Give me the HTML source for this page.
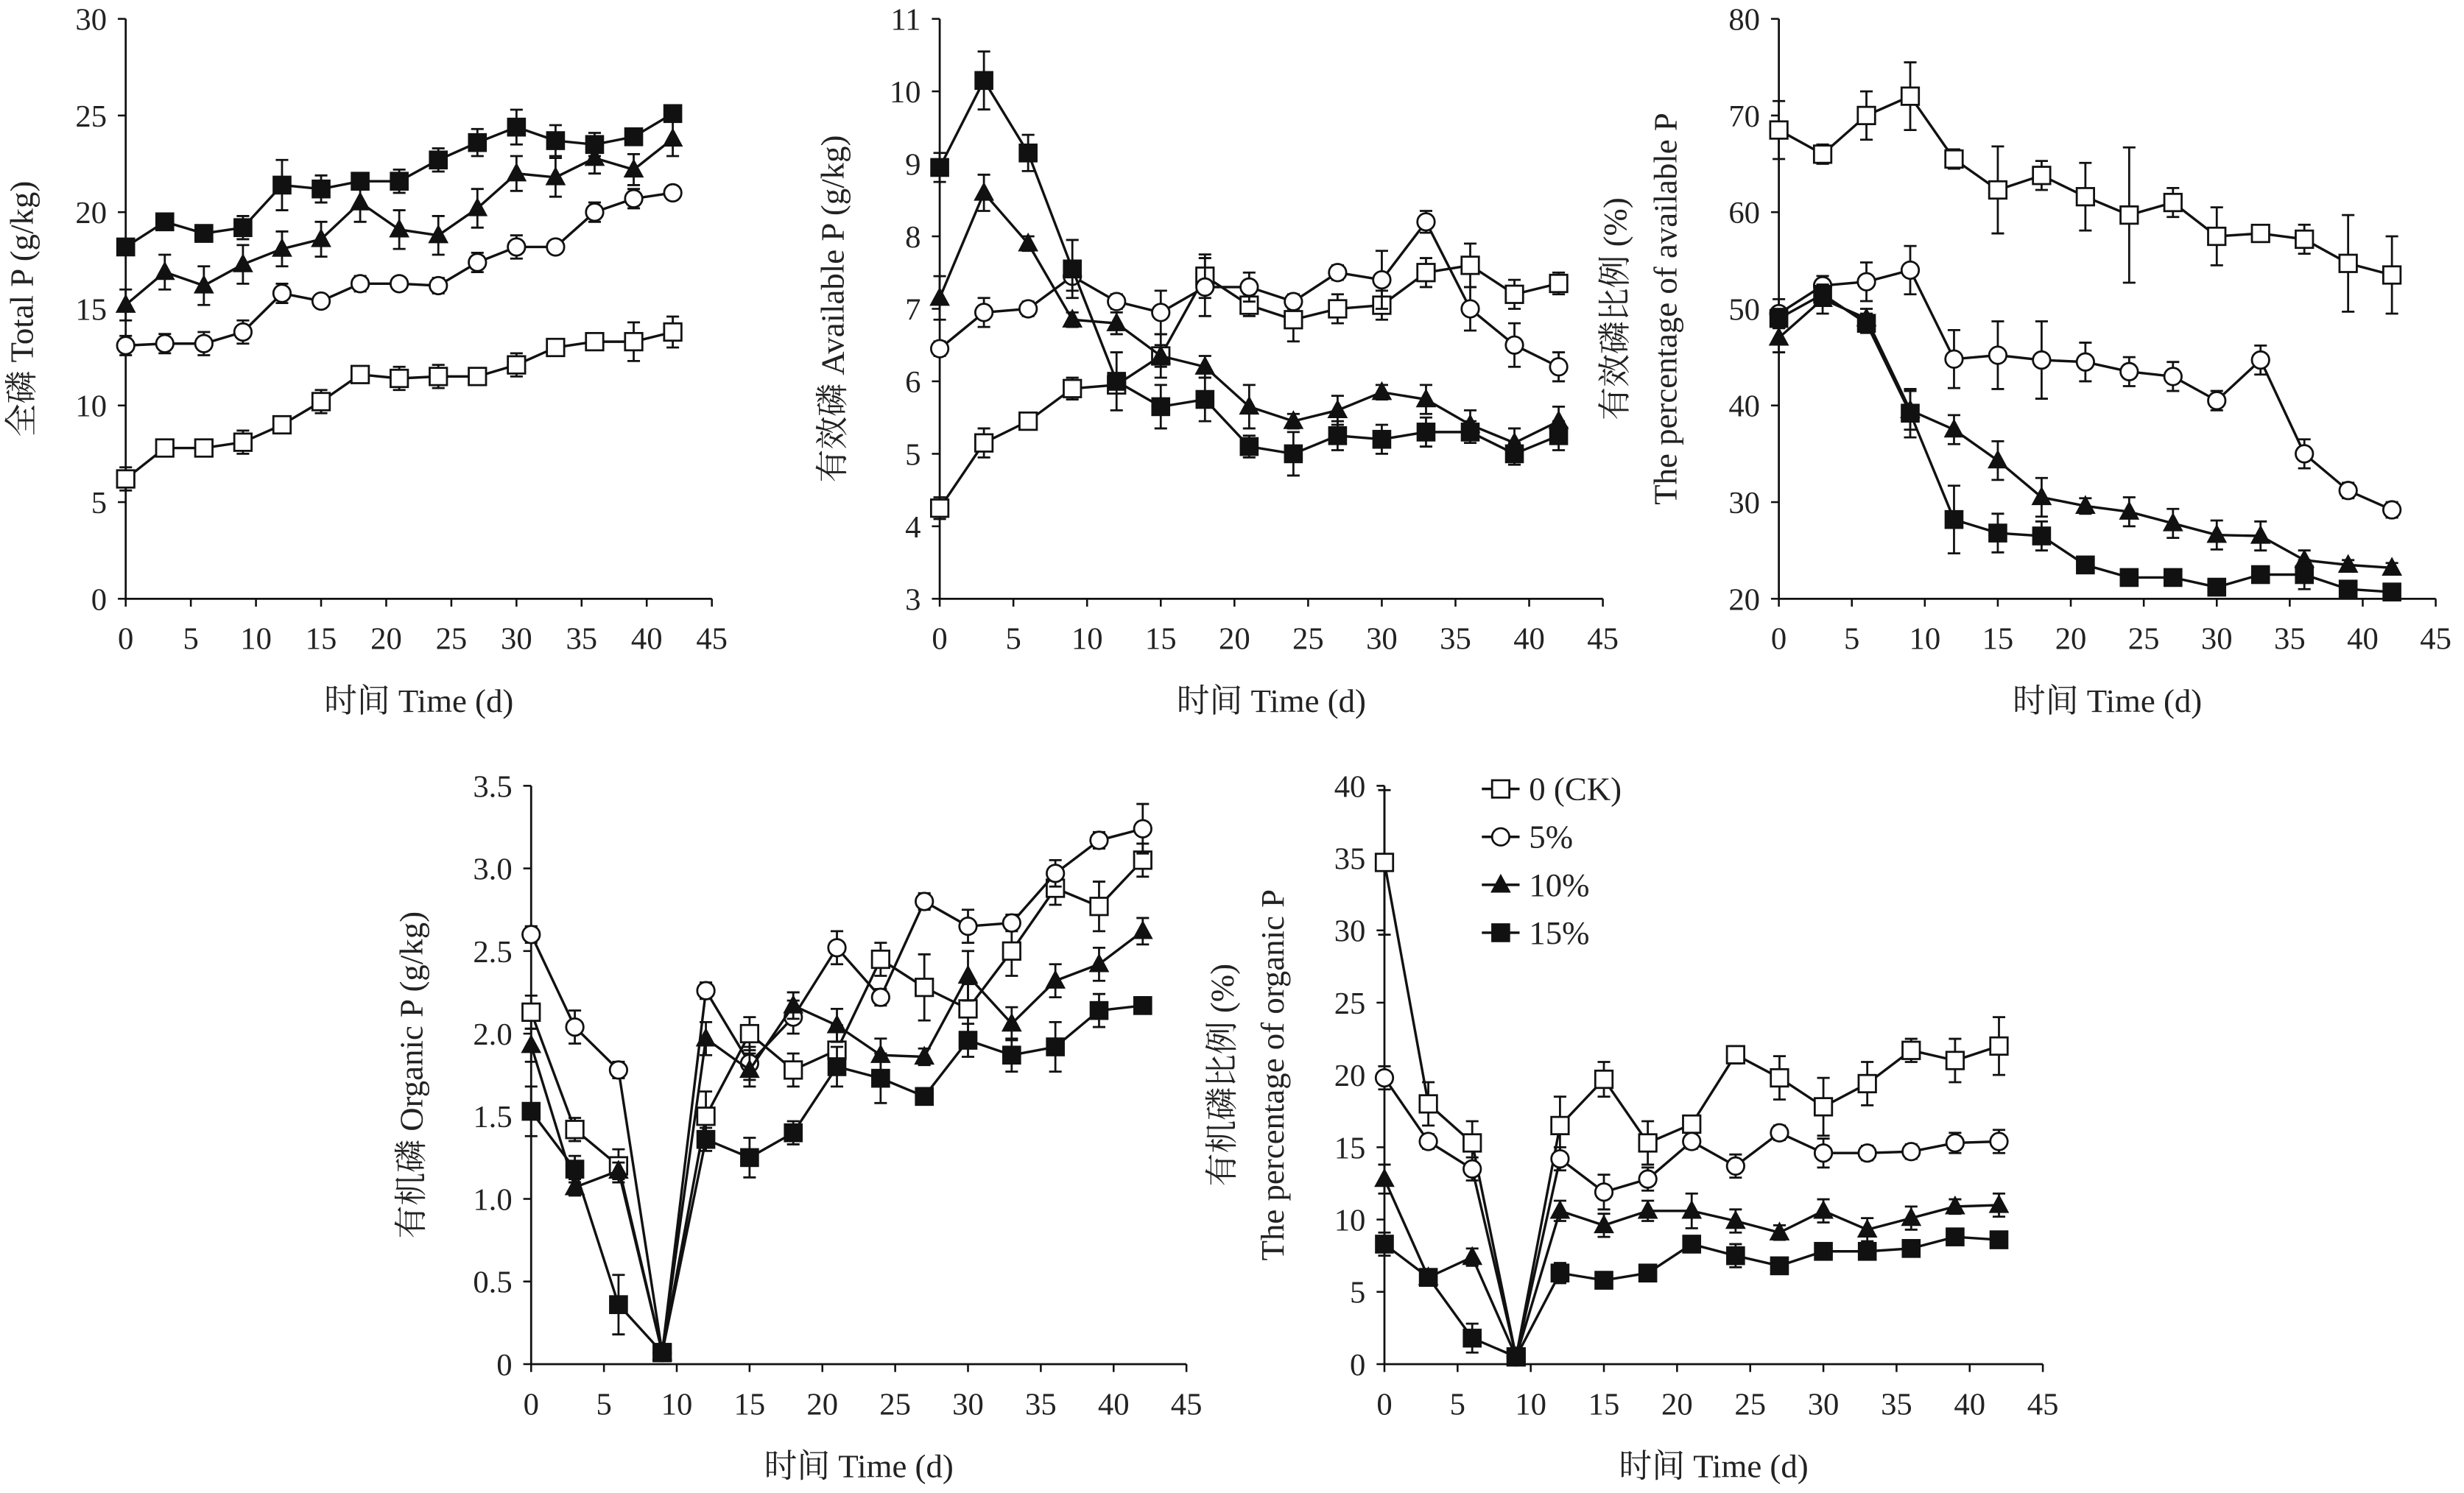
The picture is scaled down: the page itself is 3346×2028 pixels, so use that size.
<!DOCTYPE html>
<html><head><meta charset="utf-8"><style>
html,body{margin:0;padding:0;background:#fff}
svg{display:block}
text{font-family:"Liberation Serif","Noto Serif CJK SC",serif;fill:#222}
</style></head><body>
<svg id="chart" width="3346" height="2028" viewBox="0 0 1568 950" preserveAspectRatio="none" xmlns="http://www.w3.org/2000/svg"></svg>
<script>
const days = [0,3,6,9,12,15,18,21,24,27,30,33,36,39,42];
const seriesNames = ["0 (CK)","5%","10%","15%"];
const totalCK = [6.2,7.8,7.8,8.1,9.0,10.2,11.6,11.4,11.5,11.5,12.1,13.0,13.3,13.3,13.8];
const total5 = [13.1,13.2,13.2,13.8,15.8,15.4,16.3,16.3,16.2,17.4,18.2,18.2,20.0,20.7,21.0];
const total10 = [15.2,16.9,16.2,17.3,18.1,18.6,20.5,19.1,18.8,20.2,22.0,21.8,22.8,22.2,23.8];
const total15 = [18.2,19.5,18.9,19.2,21.4,21.2,21.6,21.6,22.7,23.6,24.4,23.7,23.5,23.9,25.1];
const totalErrCK = [0.6,0.3,0.3,0.6,0.3,0.6,0.3,0.6,0.6,0.3,0.6,0.3,0.3,1.0,0.8];
const totalErr5 = [0.5,0.5,0.6,0.6,0.5,0.3,0.4,0.3,0.4,0.5,0.6,0.3,0.5,0.5,0.3];
const totalErr10 = [0.8,0.9,1.0,1.0,0.9,0.9,1.0,1.0,1.0,1.0,0.9,1.0,0.8,0.8,0.9];
const totalErr15 = [0.4,0.3,0.3,0.6,1.3,0.7,0.4,0.6,0.6,0.7,0.9,0.8,0.6,0.3,0.3];
const availCK = [4.25,5.15,5.45,5.9,5.95,6.35,7.45,7.05,6.85,7.0,7.05,7.5,7.6,7.2,7.35];
const avail5 = [6.45,6.95,7.0,7.45,7.1,6.95,7.3,7.3,7.1,7.5,7.4,8.2,7.0,6.5,6.2];
const avail10 = [7.15,8.6,7.9,6.85,6.8,6.35,6.2,5.65,5.45,5.6,5.85,5.75,5.4,5.15,5.45];
const avail15 = [8.95,10.15,9.15,7.55,6.0,5.65,5.75,5.1,5.0,5.25,5.2,5.3,5.3,5.0,5.25];
const availErrCK = [0.15,0.2,0.1,0.15,0.1,0.3,0.3,0.15,0.3,0.2,0.2,0.2,0.3,0.2,0.15];
const availErr5 = [0.1,0.2,0.1,0.2,0.1,0.3,0.4,0.2,0.1,0.1,0.4,0.15,0.3,0.3,0.2];
const availErr10 = [0.3,0.25,0.1,0.1,0.15,0.15,0.15,0.3,0.1,0.2,0.1,0.2,0.2,0.2,0.2];
const availErr15 = [0.2,0.4,0.25,0.4,0.4,0.3,0.3,0.15,0.3,0.2,0.2,0.2,0.15,0.15,0.2];
const pctAvCK = [68.5,66,70,72,65.5,62.3,63.8,61.6,59.7,61,57.5,57.8,57.2,54.7,53.5];
const pctAv5 = [49.5,52.4,52.8,54,44.8,45.2,44.7,44.5,43.5,43,40.5,44.7,35,31.2,29.2];
const pctAv10 = [47,51,49,39.5,37.5,34.3,30.5,29.6,29,27.8,26.6,26.5,24,23.5,23.2];
const pctAv15 = [49,51.5,48.5,39.2,28.2,26.8,26.5,23.5,22.2,22.2,21.2,22.5,22.5,21,20.7];
const pctAvErrCK = [3,1,2.5,3.5,1,4.5,1.5,3.5,7,1.5,3,0.5,1.5,5,4];
const pctAvErr5 = [1.5,1,2,2.5,3,3.5,4,2,1.5,1.5,1,1.5,1.5,0.8,0.8];
const pctAvErr10 = [1.5,1.5,1,2,1.5,2,2,0.8,1.5,1.5,1.5,1.5,1,0.5,0.5];
const pctAvErr15 = [1,1,1,2.5,3.5,2,1.5,0.5,0.5,0.5,0.5,0.5,1.5,0.5,0.5];
const orgCK = [2.13,1.42,1.2,0.07,1.5,2.0,1.78,1.9,2.45,2.28,2.15,2.5,2.88,2.77,3.05];
const org5 = [2.6,2.04,1.78,0.07,2.26,1.82,2.1,2.52,2.22,2.8,2.65,2.67,2.97,3.17,3.24];
const org10 = [1.93,1.07,1.17,0.07,1.97,1.78,2.17,2.05,1.87,1.86,2.35,2.06,2.32,2.42,2.62];
const org15 = [1.53,1.18,0.36,0.07,1.36,1.25,1.4,1.8,1.73,1.62,1.96,1.87,1.92,2.14,2.17];
const orgErrCK = [0.1,0.07,0.1,0.03,0.15,0.1,0.1,0.15,0.1,0.2,0.15,0.15,0.1,0.15,0.1];
const orgErr5 = [0.05,0.1,0.05,0.03,0.05,0.1,0.1,0.1,0.05,0.05,0.1,0.05,0.08,0.05,0.15];
const orgErr10 = [0.1,0.05,0.05,0.03,0.1,0.1,0.08,0.1,0.1,0.05,0.15,0.1,0.1,0.1,0.08];
const orgErr15 = [0.15,0.08,0.18,0.03,0.07,0.12,0.07,0.12,0.15,0.05,0.1,0.1,0.15,0.1,0.05];
const pctOrgCK = [34.7,18,15.3,0.5,16.5,19.7,15.3,16.6,21.4,19.8,17.8,19.4,21.7,21,22];
const pctOrg5 = [19.8,15.4,13.5,0.5,14.2,11.9,12.8,15.4,13.7,16,14.6,14.6,14.7,15.3,15.4];
const pctOrg10 = [12.8,6,7.4,0.5,10.6,9.6,10.6,10.6,9.9,9.1,10.6,9.3,10.1,10.9,11];
const pctOrg15 = [8.3,6,1.8,0.5,6.3,5.8,6.3,8.3,7.5,6.8,7.8,7.8,8,8.8,8.6];
const pctOrgErrCK = [5,1.5,1.5,0.3,2,1.2,1.5,0.5,0.6,1.5,2,1.5,0.8,1.5,2];
const pctOrgErr5 = [0.8,0.5,0.8,0.3,0.8,1.2,0.8,0.5,0.8,0.5,1,0.5,0.5,0.7,0.8];
const pctOrgErr10 = [1,0.5,0.6,0.3,0.7,0.8,0.7,1.2,0.8,0.5,0.8,0.8,0.8,0.5,0.8];
const pctOrgErr15 = [0.8,0.3,1,0.3,0.7,0.5,0.5,0.5,0.8,0.5,0.5,0.5,0.5,0.5,0.5];
const xTicks = [0,5,10,15,20,25,30,35,40,45];
const yTicks1 = [0,5,10,15,20,25,30];
const yTicks2 = [3,4,5,6,7,8,9,10,11];
const yTicks3 = [20,30,40,50,60,70,80];
const yTicks4 = ["0","0.5","1.0","1.5","2.0","2.5","3.0","3.5"];
const yTicks5 = [0,5,10,15,20,25,30,35,40];

const NS="http://www.w3.org/2000/svg";
const svg=document.getElementById('chart');
function mk(tag,attrs,parent){const e=document.createElementNS(NS,tag);for(const k in attrs)e.setAttribute(k,attrs[k]);(parent||svg).appendChild(e);return e;}

const panels=[
 {name:'total-p',x0:80,x1:453,yb:381,yt:12,ymin:0,ymax:30,ticks:yTicks1,data:[totalCK,total5,total10,total15],err:[totalErrCK,totalErr5,totalErr10,totalErr15],titles:[["全磷 Total P (g/kg)",16]]},
 {name:'available-p',x0:598,x1:1020,yb:381,yt:12,ymin:3,ymax:11,ticks:yTicks2,data:[availCK,avail5,avail10,avail15],err:[availErrCK,availErr5,availErr10,availErr15],titles:[["有效磷 Available P (g/kg)",532]]},
 {name:'available-p-percentage',x0:1132,x1:1550,yb:381,yt:12,ymin:20,ymax:80,ticks:yTicks3,data:[pctAvCK,pctAv5,pctAv10,pctAv15],err:[pctAvErrCK,pctAvErr5,pctAvErr10,pctAvErr15],titles:[["有效磷比例 (%)",1030],["The percentage of available P",1062]]},
 {name:'organic-p',x0:338,x1:755,yb:868,yt:500,ymin:0,ymax:3.5,ticks:yTicks4,data:[orgCK,org5,org10,org15],err:[orgErrCK,orgErr5,orgErr10,orgErr15],titles:[["有机磷 Organic P (g/kg)",264]]},
 {name:'organic-p-percentage',x0:881,x1:1300,yb:868,yt:500,ymin:0,ymax:40,ticks:yTicks5,data:[pctOrgCK,pctOrg5,pctOrg10,pctOrg15],err:[pctOrgErrCK,pctOrgErr5,pctOrgErr10,pctOrgErr15],titles:[["有机磷比例 (%)",780],["The percentage of organic P",812]]}
];

function marker(g,kind,cx,cy){
  let e;
  if(kind===0){e=mk('rect',{x:cx-5.5,y:cy-5.5,width:11,height:11,fill:'#fff',stroke:'#111','stroke-width':1.3},g);}
  else if(kind===1){e=mk('circle',{cx:cx,cy:cy,r:5.5,fill:'#fff',stroke:'#111','stroke-width':1.3},g);}
  else if(kind===2){e=mk('polygon',{points:`${cx},${cy-7} ${cx-6.5},${cy+5} ${cx+6.5},${cy+5}`,fill:'#111'},g);}
  else {e=mk('rect',{x:cx-6,y:cy-6,width:12,height:12,fill:'#111'},g);}
  return e;
}

panels.forEach(p=>{
  const g=mk('g',{});
  
  
  const xs=v=>p.x0+(v-0)/(45-0)*(p.x1-p.x0);
  const ys=v=>p.yb-(v-p.ymin)/(p.ymax-p.ymin)*(p.yb-p.yt);
  const ax=mk('path',{d:`M${p.x0},${p.yt} V${p.yb} H${p.x1}`,fill:'none',stroke:'#111','stroke-width':1.3},g);
  
  
  xTicks.forEach(t=>{
    mk('line',{x1:xs(t),x2:xs(t),y1:p.yb,y2:p.yb+5,stroke:'#111','stroke-width':1.2},g);
    const tx=mk('text',{x:xs(t),y:p.yb+32,'text-anchor':'middle','font-size':20},g);tx.textContent=t;
    
    
  });
  p.ticks.forEach(t=>{
    const v=parseFloat(t);
    mk('line',{x1:p.x0-5,x2:p.x0,y1:ys(v),y2:ys(v),stroke:'#111','stroke-width':1.2},g);
    const tx=mk('text',{x:p.x0-12,y:ys(v)+7,'text-anchor':'end','font-size':20},g);tx.textContent=t;
    
    
  });
  const xt=mk('text',{x:(p.x0+p.x1)/2,y:p.yb+72,'text-anchor':'middle','font-size':21},g);
  xt.textContent='时间 Time (d)';
  
  
  p.titles.forEach(([s,x])=>{
    const cy=(p.yt+p.yb)/2;
    const t=mk('text',{x:x,y:cy,'text-anchor':'middle','font-size':21,transform:`rotate(-90 ${x} ${cy})`,'dominant-baseline':'middle'},g);
    t.textContent=s;
    
    
  });
  p.data.forEach((arr,k)=>{
    const sg=mk('g',{},g);
    
    
    const d=arr.map((v,i)=>(i?'L':'M')+xs(days[i])+','+ys(v)).join(' ');
    mk('path',{d:d,fill:'none',stroke:'#111','stroke-width':1.6},sg);
    arr.forEach((v,i)=>{
      const e=p.err[k][i];
      const x=xs(days[i]);
      const eb=mk('path',{d:`M${x},${ys(v-e)} V${ys(v+e)} M${x-4},${ys(v-e)} H${x+4} M${x-4},${ys(v+e)} H${x+4}`,stroke:'#111','stroke-width':1.3,fill:'none'},sg);
      
      
    });
    arr.forEach((v,i)=>{
      const m=marker(sg,k,xs(days[i]),ys(v));
      
      
    });
  });
});

const lg=mk('g',{});


seriesNames.forEach((s,k)=>{
  const y=502+k*30.5;
  const e=mk('g',{},lg);
  
  
  mk('line',{x1:943,x2:967,y1:y,y2:y,stroke:'#111','stroke-width':1.6},e);
  marker(e,k,955,y);
  const t=mk('text',{x:973,y:y+7,'font-size':21},e);t.textContent=s;
});
</script>
</body></html>
